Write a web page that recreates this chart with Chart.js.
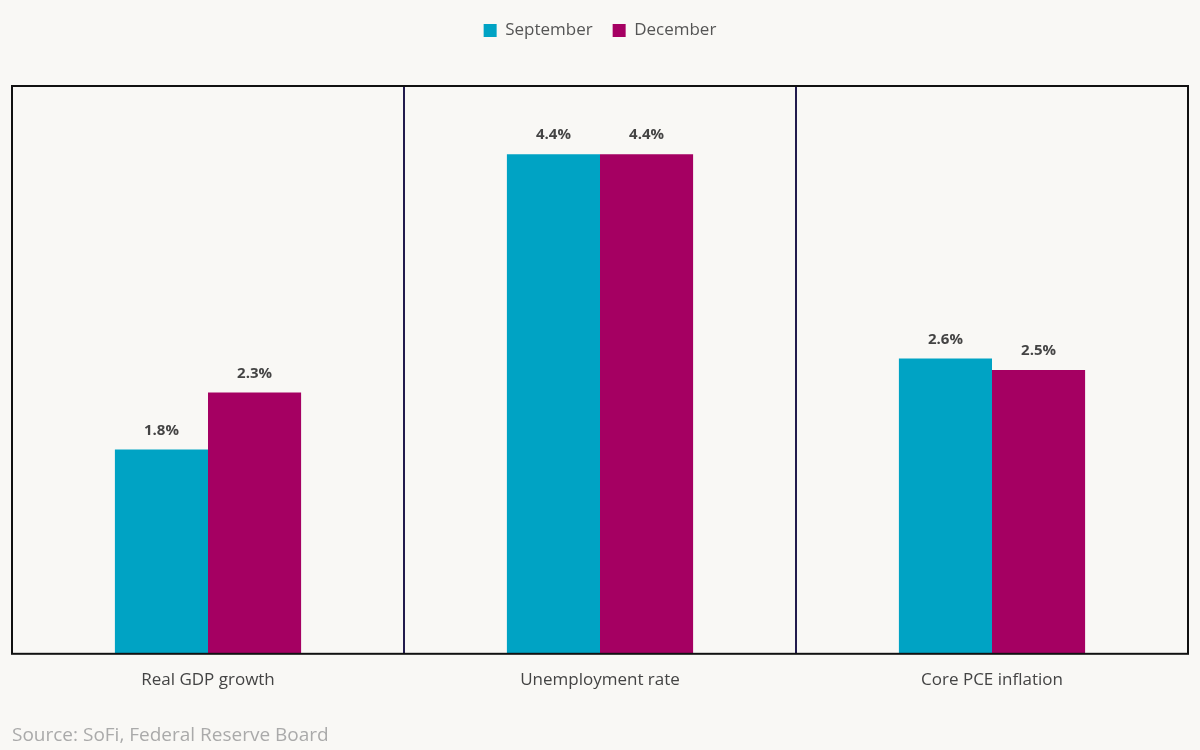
<!DOCTYPE html>
<html>
<head>
<meta charset="utf-8">
<script src="https://cdn.jsdelivr.net/npm/chart.js@4"></script>
<style>
  html, body { margin: 0; padding: 0; background: #f9f8f5; }
  #wrap { position: relative; width: 1200px; height: 750px; }
</style>
</head>
<body>
<div id="wrap"><canvas id="barChart" width="1200" height="750"></canvas></div>
<script>
const categories = ['Real GDP growth', 'Unemployment rate', 'Core PCE inflation'];
const seriesNames = ['September', 'December'];
const september = [1.8, 4.4, 2.6];
const december = [2.3, 4.4, 2.5];
const colors = ['#00a3c4', '#a50062'];

const FONT = '"Open Sans", Lato, sans-serif';

// frame around the plot area
const frame = {
  id: 'frame',
  afterDatasetsDraw: (chart) => {
    const { ctx, chartArea: a } = chart;
    ctx.save();
    ctx.strokeStyle = '#111111';
    ctx.lineWidth = 2;
    ctx.strokeRect(a.left, a.top, a.right - a.left, a.bottom - a.top);
    ctx.restore();
  }
};

// value labels above the bars
const valueLabels = {
  id: 'valueLabels',
  afterDatasetsDraw: (chart) => {
    const { ctx } = chart;
    ctx.save();
    ctx.font = 'bold 15px ' + FONT;
    ctx.fillStyle = '#444444';
    ctx.textAlign = 'center';
    ctx.textBaseline = 'middle';
    chart.data.datasets.forEach((ds, i) => {
      chart.getDatasetMeta(i).data.forEach((bar, j) => {
        ctx.fillText(ds.data[j].toFixed(1) + '%', bar.x, bar.y - 19);
      });
    });
    ctx.restore();
  }
};

// extra gap under the legend
const legendGap = {
  id: 'legendGap',
  beforeInit: (chart) => {
    const fit = chart.legend.fit;
    chart.legend.fit = function () {
      fit.bind(chart.legend)();
      this.height += 37;
    };
  }
};

new Chart(document.getElementById('barChart'), {
  type: 'bar',
  data: {
    labels: categories,
    datasets: [
      { label: seriesNames[0], data: september, backgroundColor: colors[0] },
      { label: seriesNames[1], data: december, backgroundColor: colors[1] }
    ]
  },
  options: {
    responsive: false,
    animation: false,
    datasets: { bar: { categoryPercentage: 0.475, barPercentage: 1 } },
    layout: { padding: { left: 12, right: 12, top: 2, bottom: 0 } },
    plugins: {
      legend: {
        position: 'top',
        labels: {
          boxWidth: 13, boxHeight: 13, padding: 20,
          color: '#555555',
          font: { family: FONT, size: 17 }
        }
      },
      title: {
        display: true,
        position: 'bottom',
        align: 'start',
        text: 'Source: SoFi, Federal Reserve Board',
        color: '#aaaaaa',
        font: { family: FONT, size: 19, weight: 'normal' },
        padding: { top: 18, bottom: 3 }
      },
      tooltip: { enabled: false }
    },
    scales: {
      x: {
        grid: { offset: true, color: '#221c4d', lineWidth: 2, drawTicks: false },
        border: { display: false },
        ticks: {
          color: '#444444', padding: 16,
          font: { family: FONT, size: 17 }
        }
      },
      y: {
        display: false,
        min: 0,
        max: 5
      }
    }
  },
  plugins: [legendGap, frame, valueLabels]
});
</script>
</body>
</html>
